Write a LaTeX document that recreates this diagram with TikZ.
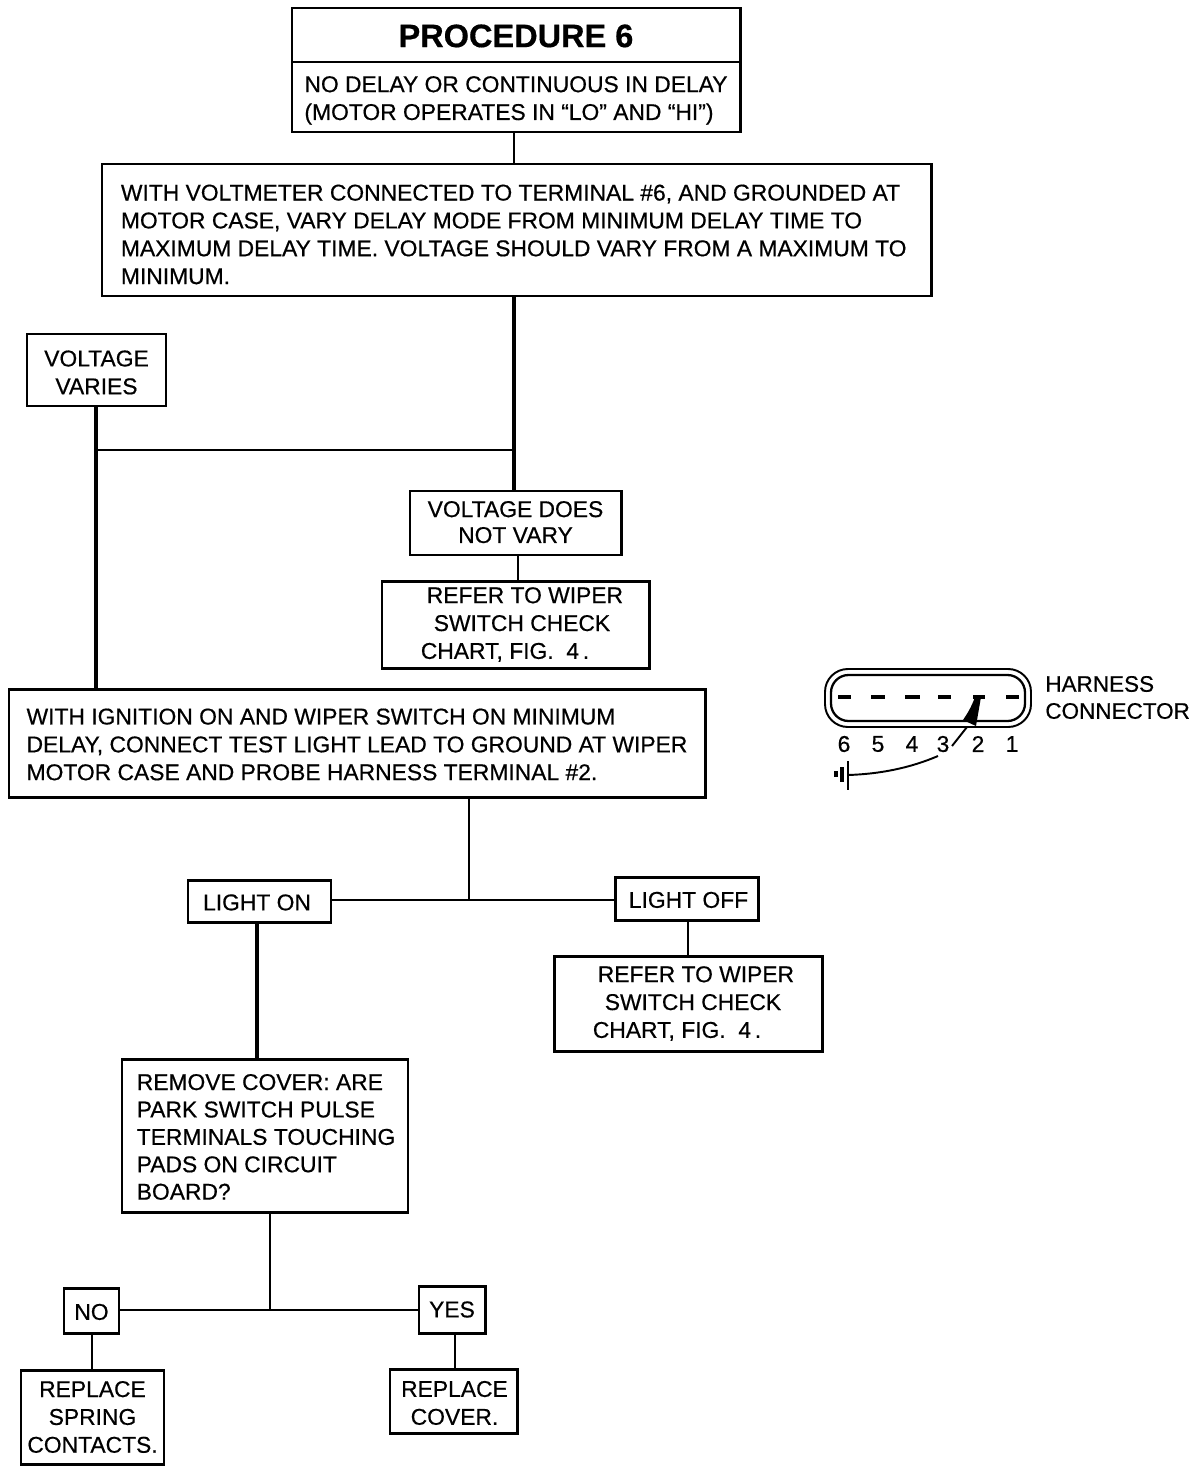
\documentclass[tikz,border=0pt]{standalone}
\usepackage{fontspec}
\setmainfont{Liberation Sans}[RawFeature={embolden=0.5}]
\usetikzlibrary{arrows.meta}
\newdimen\pxu \pxu=0.567pt
\newcommand{\hs}[1]{\hspace*{#1\pxu}}
\newcommand{\tp}[1]{\rule{0pt}{\dimexpr 9.6pt+#1\pxu\relax}}
\newcommand{\pbox}[6]{\node[boxs,minimum width=#3*0.02cm-0.02cm*#2,minimum height=#5*0.02cm-0.02cm*#4,#6] (#1) at ({(#2+#3)/2},{(#4+#5)/2})}
\tikzset{
  x=0.02cm,y=-0.02cm,
  boxs/.style={draw=black,line width=1.7pt,fill=white,inner sep=0pt,align=left,font=\fontsize{13}{15.85}\selectfont,text=black},
  flow/.style={line width=1.5pt,draw=black},
  flowthick/.style={line width=2.1pt,draw=black},
  pin/.style={inner sep=0pt,font=\fontsize{13}{15.9}\selectfont},
  plain/.style={inner sep=0pt,align=left,anchor=west,font=\fontsize{12.8}{15.6}\selectfont},
  dashpin/.style={line width=2pt,draw=black}
}
\begin{document}
\begin{tikzpicture}
\useasboundingbox (0,0) rectangle (1200,1470);
% boxes
\pbox{title}{292}{740}{8}{62}{font=\fontsize{18.5}{20}\selectfont\bfseries}{\rule{0pt}{14pt}PROCEDURE 6};
\pbox{sub}{292}{740}{62}{132}{}{\tp{6}NO DELAY OR CONTINUOUS IN DELAY\\(MOTOR OPERATES IN ``LO'' AND ``HI'')};
\pbox{main}{102}{931}{164}{296}{}{\tp{8}WITH VOLTMETER CONNECTED TO TERMINAL \#6, AND GROUNDED AT\hs{12}\\MOTOR CASE, VARY DELAY MODE FROM MINIMUM DELAY TIME TO\\MAXIMUM DELAY TIME. VOLTAGE SHOULD VARY FROM A MAXIMUM TO\\MINIMUM.};
\pbox{varies}{27}{166}{334}{406}{align=center}{\tp{4}VOLTAGE\\VARIES};
\pbox{novary}{410}{621}{491}{555}{align=center}{VOLTAGE DOES\\[-1.1pt]NOT VARY\rule[-1.1pt]{0pt}{1.1pt}};
\pbox{refera}{382}{649}{581}{668}{}{\hs{13}\hs{6}REFER TO WIPER\\\hs{13}\hs{13}SWITCH CHECK\\\hs{13}CHART, FIG.\ \ 4\,.};
\pbox{ign}{9}{705}{689}{797}{}{\tp{2}WITH IGNITION ON AND WIPER SWITCH ON MINIMUM\\DELAY, CONNECT TEST LIGHT LEAD TO GROUND AT WIPER\hs{10}\\MOTOR CASE AND PROBE HARNESS TERMINAL \#2.};
\pbox{lon}{188}{331}{880}{922}{}{\tp{2}LIGHT ON\hs{5}};
\pbox{loff}{615}{758}{877}{920}{}{\tp{2}\hs{4}LIGHT OFF};
\pbox{referb}{554}{822}{956}{1051}{}{\hs{11}\hs{5}REFER TO WIPER\\\hs{11}\hs{12}SWITCH CHECK\\\hs{11}CHART, FIG.\ \ 4\,.};
\pbox{cover}{122}{408}{1059}{1212}{font=\fontsize{13}{15.6}\selectfont}{\tp{2}\hs{2}REMOVE COVER: ARE\\\hs{2}PARK SWITCH PULSE\\\hs{2}TERMINALS TOUCHING\\\hs{2}PADS ON CIRCUIT\\\hs{2}BOARD?};
\pbox{no}{64}{119}{1288}{1333}{}{\tp{2}NO};
\pbox{yes}{419}{485}{1286}{1333}{}{YES};
\pbox{spring}{21}{164}{1370}{1464}{align=center}{REPLACE\\SPRING\\CONTACTS.};
\pbox{rcover}{390}{517}{1369}{1433}{align=center}{\tp{3}\hs{2}REPLACE\\\hs{2}COVER.};
% junctions
\coordinate (j1) at (514,450);
\coordinate (j2) at (469,900);
\coordinate (j3) at (270,1310);
\coordinate (xa) at (96,450);
% connectors
\draw[flow] (sub.south -| j1) -- (main.north -| j1);
\draw[flowthick] (main.south -| j1) -- (novary.north -| j1);
\draw[flowthick] (varies.south -| xa) -- (ign.north -| xa);
\draw[flow] (xa) -- (j1);
\draw[flow] (novary.south -| 518,0) -- (refera.north -| 518,0);
\draw[flow] (ign.south -| j2) -- (j2);
\draw[flow] (lon.east |- j2) -- (loff.west |- j2);
\draw[flow] (loff.south -| 688,0) -- (referb.north -| 688,0);
\draw[flowthick] (lon.south -| 257,0) -- (cover.north -| 257,0);
\draw[flow] (cover.south -| j3) -- (j3);
\draw[flow] (no.east |- j3) -- (yes.west |- j3);
\draw[flow] (no.south -| 92,0) -- (spring.north -| 92,0);
\draw[flow] (yes.south -| 455,0) -- (rcover.north -| 455,0);
% harness connector
\draw[line width=1.1pt,rounded corners=13pt] (825,669) rectangle (1031,727);
\draw[line width=1.3pt,rounded corners=10pt] (831,675) rectangle (1025,721);
\foreach \a/\b in {838/851,871/885,905/920,938/951,973/985,1006/1019}
  \draw[dashpin] (\a,697) -- (\b,697);
\foreach \n/\x in {6/844,5/878,4/912,3/943,2/978,1/1012}
  \node[pin] (p\n) at (\x,744) {\n};
\node[plain] (hl1) at (1045,684) {HARNESS};
\node[plain] (hl2) at (1045,711) {CONNECTOR};
% probe
\coordinate (pa) at (952,746);
\coordinate (pb) at (967,727);
\coordinate (tip) at (981,697);
\draw[line width=1.1pt] (pa) -- (pb);
\fill (tip) -- (975,697) .. controls (971,708) and (967,714) .. (963,720) -- (976,726) -- cycle;
\coordinate (ca) at (938,756);
\coordinate (cb) at (848,775);
\draw[line width=1.1pt] (ca) .. controls (910,768) and (880,774) .. (cb);
\draw[line width=1.3pt] (848,761) -- (848,790);
\draw[line width=2pt] (842,767) -- (842,782);
\draw[line width=2pt] (836,771) -- (836,777);
\end{tikzpicture}
\end{document}
